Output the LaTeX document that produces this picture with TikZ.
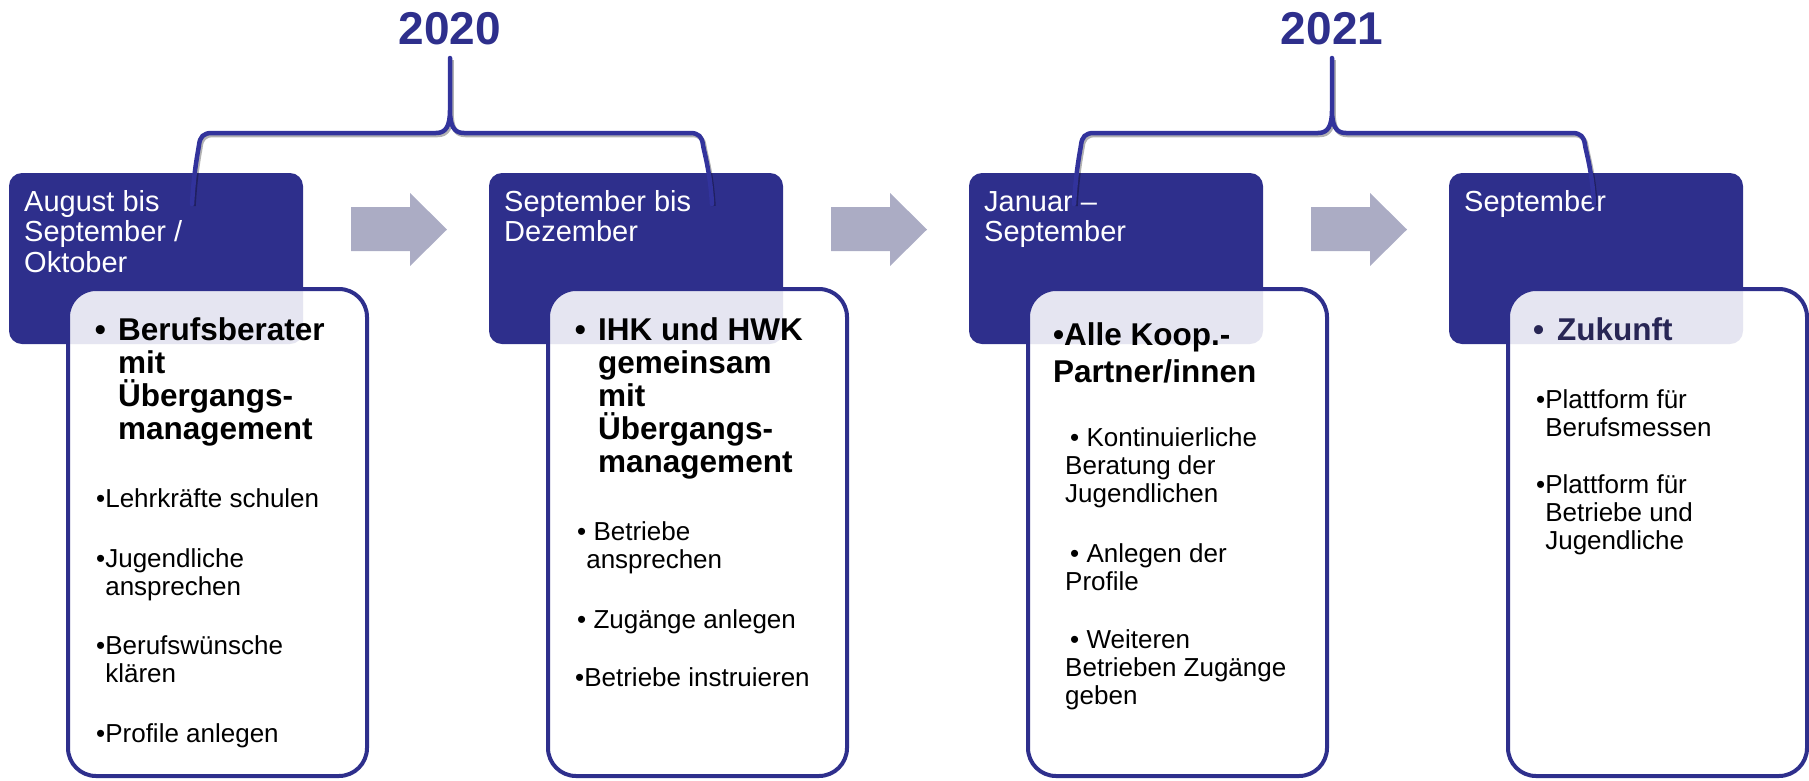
\documentclass[tikz,border=0pt]{standalone}
\usepackage{fontspec}
\setmainfont{Liberation Sans}

\definecolor{navy}{RGB}{46,47,140}
\definecolor{bracenavy}{RGB}{50,51,156}
\definecolor{flowgray}{RGB}{171,172,196}
\definecolor{ink}{RGB}{40,38,85}

% stacked lines, baseline of the node = baseline of the first line
\newcommand{\stk}[1]{\vtop{\let\\\cr\lineskiplimit=-100pt\relax\halign{##\hfil\cr#1\crcr}}}
% hanging bullet
\newcommand{\bul}[1]{\llap{•\hspace{#1}}}

\begin{document}
\begin{tikzpicture}[x=1pt,y=-1pt,
    head/.style={fill=navy,rounded corners=13pt,minimum width=294pt,minimum height=171pt,inner sep=0pt},
    card/.style={draw=navy,line width=4pt,fill=white,fill opacity=0.88,rounded corners=28pt,
                 minimum width=299pt,minimum height=487pt,inner sep=0pt},
    headtext/.style={anchor=base west,inner sep=0pt,text=white,font=\fontsize{29}{30.5}\selectfont},
    lead/.style={anchor=base west,inner sep=0pt,font=\bfseries\fontsize{31.5}{33}\selectfont},
    item/.style={anchor=base west,inner sep=0pt,font=\fontsize{26}{28.3}\selectfont},
    year/.style={anchor=base,inner sep=0pt,text=navy,font=\bfseries\fontsize{46}{50}\selectfont},
    flow/.style={fill=flowgray},
    brace/.style={draw=bracenavy,line width=4.5pt,line cap=round,line join=round,
                  preaction={draw=black,draw opacity=0.3,line width=4.5pt,
                             transform canvas={shift={(1.5pt,-2pt)}}}}]

  \useasboundingbox (0,0) rectangle (1809,780);

  % phases
  \node[head] (head1) at (156,258.5)  {};
  \node[head] (head2) at (636,258.5)  {};
  \node[head] (head3) at (1116,258.5) {};
  \node[head] (head4) at (1596,258.5) {};

  \node[card] (card1) at (217.5,532.5)  {};
  \node[card] (card2) at (697.5,532.5)  {};
  \node[card] (card3) at (1177.5,532.5) {};
  \node[card] (card4) at (1657.5,532.5) {};

  \node[headtext] (when1) at (24,211)   {\stk{August bis\\September /\\Oktober}};
  \node[headtext] (when2) at (504,211)  {\stk{September bis\\Dezember}};
  \node[headtext] (when3) at (984,211)  {\stk{Januar –\\September}};
  \node[headtext] (when4) at (1464,211) {\stk{September}};

  % who
  \node[lead] (who1) at (118,340)  {\stk{\bul{12.4pt}Berufsberater\\mit\\Übergangs-\\management}};
  \node[lead] (who2) at (598,340)  {\stk{\bul{12.4pt}IHK und HWK\\gemeinsam\\mit\\Übergangs-\\management}};
  \node[lead,font=\bfseries\fontsize{31.5}{37}\selectfont] (who3) at (1053,345) {\stk{•Alle Koop.-\\Partner/innen}};
  \node[lead,text=ink] (who4) at (1557,340) {\stk{\bul{13pt}Zukunft}};

  % tasks
  \node[item] (task1a) at (96,507) {\stk{•Lehrkräfte schulen}};
  \node[item] (task1b) at (96,567) {\stk{•Jugendliche\\\phantom{•}ansprechen}};
  \node[item] (task1c) at (96,654) {\stk{•Berufswünsche\\\phantom{•}klären}};
  \node[item] (task1d) at (96,742) {\stk{•Profile anlegen}};

  \node[item] (task2a) at (577,540) {\stk{• Betriebe\\\phantom{•}ansprechen}};
  \node[item] (task2b) at (577,628) {\stk{• Zugänge anlegen}};
  \node[item] (task2c) at (575,686) {\stk{•Betriebe instruieren}};

  \node[item] (task3a) at (1065,446) {\stk{\hspace{5pt}• Kontinuierliche\\Beratung der\\Jugendlichen}};
  \node[item] (task3b) at (1065,562) {\stk{\hspace{5pt}• Anlegen der\\Profile}};
  \node[item] (task3c) at (1065,648) {\stk{\hspace{5pt}• Weiteren\\Betrieben Zugänge\\geben}};

  \node[item] (task4a) at (1536,408) {\stk{•Plattform für\\\phantom{•}Berufsmessen}};
  \node[item] (task4b) at (1536,493) {\stk{•Plattform für\\\phantom{•}Betriebe und\\\phantom{•}Jugendliche}};

  % arrows between phases
  \fill[flow] (351,207) -- (410,207) -- (410,193) -- (447,229.5) -- (410,266) -- (410,251) -- (351,251) -- cycle;
  \fill[flow] (831,207) -- (890,207) -- (890,193) -- (927,229.5) -- (890,266) -- (890,251) -- (831,251) -- cycle;
  \fill[flow] (1311,207) -- (1370,207) -- (1370,193) -- (1407,229.5) -- (1370,266) -- (1370,251) -- (1311,251) -- cycle;

  % years
  \node[year] (y2020) at (450,44)  {2020};
  \node[year] (y2021) at (1332,44) {2021};

  \coordinate (b20l) at (192,204);
  \coordinate (b20r) at (712,204);
  \coordinate (b20t) at (450,58);
  \coordinate (b21l) at (1074,204);
  \coordinate (b21r) at (1594,204);
  \coordinate (b21t) at (1332,58);

  \draw[brace] (b20l)
    .. controls (194,170) and (198,152) .. (199,145) .. controls (200,137) and (203,133) .. (212,133)
    -- (436,133) .. controls (446,133) and (450,126) .. (450,110) -- (b20t) -- (450,110)
    .. controls (450,126) and (454,133) .. (464,133) -- (690,133)
    .. controls (699,133) and (702,137) .. (703,145) .. controls (704,152) and (710,170) .. (b20r);

  \draw[brace] (b21l)
    .. controls (1076,170) and (1080,152) .. (1081,145) .. controls (1082,137) and (1085,133) .. (1094,133)
    -- (1318,133) .. controls (1328,133) and (1332,126) .. (1332,110) -- (b21t) -- (1332,110)
    .. controls (1332,126) and (1336,133) .. (1346,133) -- (1572,133)
    .. controls (1581,133) and (1584,137) .. (1585,145) .. controls (1586,152) and (1592,170) .. (b21r);

\end{tikzpicture}
\end{document}
